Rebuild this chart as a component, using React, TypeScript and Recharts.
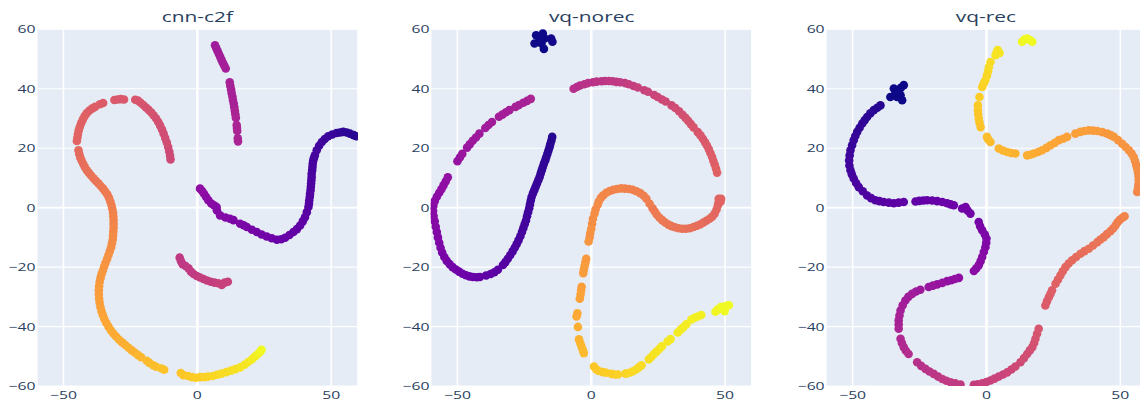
import { ScatterChart, Scatter, XAxis, YAxis, CartesianGrid } from "recharts";

// [x, y, colour value 0..1 on the plasma scale]
type Pt = [number, number, number];

const X_TICKS = [-50, 0, 50];
const Y_TICKS = [-60, -40, -20, 0, 20, 40, 60];
const DOMAIN: [number, number] = [-60, 60];

// ---------- cnn-c2f ----------
const cnnStroke: Pt[] = [
  [6.6, 54.6, 0.35], [7.1, 53.6, 0.35], [7.6, 52.6, 0.35], [8.1, 51.6, 0.35], [8.6, 50.6, 0.36],
  [9.1, 49.6, 0.36], [9.6, 48.6, 0.36], [10.1, 47.7, 0.36], [10.6, 46.8, 0.36],
  [12.1, 42.2, 0.37], [12.3, 41, 0.37], [12.6, 39.8, 0.37], [12.8, 38.6, 0.37], [13.1, 37.4, 0.37],
  [13.3, 36.2, 0.37], [13.6, 35, 0.37], [13.8, 33.8, 0.37], [14, 32.6, 0.38], [14.2, 31.4, 0.38],
  [14.4, 30.2, 0.38], [14.7, 27.8, 0.38], [14.8, 26.8, 0.38], [14.9, 25.8, 0.38],
  [15.1, 23.3, 0.38], [15.2, 22.3, 0.38],
];
const cnnArc: Pt[] = [
  [-45, 22.4, 0.6], [-44.8, 23.6, 0.6], [-44.6, 24.8, 0.6], [-44.3, 26, 0.6], [-43.9, 27.2, 0.6],
  [-43.4, 28.4, 0.59], [-42.8, 29.6, 0.59], [-42.1, 30.8, 0.59], [-41.3, 31.8, 0.59], [-40.3, 32.7, 0.58],
  [-39.2, 33.4, 0.58], [-38.2, 33.9, 0.58], [-36.4, 34.8, 0.58], [-35.2, 35.2, 0.57],
  [-31, 36.2, 0.57], [-29.8, 36.4, 0.56], [-28.6, 36.5, 0.56], [-27.4, 36.4, 0.56],
  [-23.2, 36.3, 0.55], [-22.2, 36, 0.55], [-21.2, 35.3, 0.55], [-20.2, 34.5, 0.55], [-19.2, 33.7, 0.54],
  [-18.2, 32.9, 0.54], [-17.2, 32, 0.54], [-16.3, 31, 0.54], [-15.4, 30, 0.53], [-14.6, 28.8, 0.53],
  [-13.9, 27.6, 0.53], [-13.2, 26.3, 0.53], [-12.6, 24.9, 0.52], [-12, 23.4, 0.52], [-11.4, 21.9, 0.52],
  [-10.9, 20.4, 0.52], [-10.5, 18.9, 0.51], [-10.2, 17.5, 0.51], [-10, 16.2, 0.51],
];
const cnnSpine: Pt[] = [
  [-44.4, 19.3, 0.62], [-44.1, 18, 0.62], [-43.7, 16.8, 0.62], [-43.2, 15.8, 0.63], [-42.6, 14.7, 0.63],
  [-42, 13.6, 0.63], [-41.3, 12.6, 0.64], [-40.5, 11.7, 0.64], [-39.7, 10.8, 0.64], [-38.8, 9.9, 0.65],
  [-37.9, 9, 0.65], [-37, 8.2, 0.65], [-36.1, 7.3, 0.66], [-35.2, 6.4, 0.66], [-34.4, 5.4, 0.67],
  [-33.6, 4.4, 0.67], [-33, 3.3, 0.67], [-32.5, 2.1, 0.68], [-32.1, 0.9, 0.68], [-31.8, -0.3, 0.69],
  [-31.5, -1.6, 0.69], [-31.4, -2.9, 0.7], [-31.3, -4.2, 0.7], [-31.3, -5.5, 0.7], [-31.3, -6.8, 0.71],
  [-31.4, -8.1, 0.71], [-31.5, -9.4, 0.72], [-31.6, -10.7, 0.72], [-31.9, -12, 0.72], [-32.2, -13.3, 0.73],
  [-32.7, -14.6, 0.73], [-33.2, -15.9, 0.74], [-33.7, -17.2, 0.74], [-34.3, -18.5, 0.74], [-34.8, -19.8, 0.75],
  [-35.3, -21.1, 0.75], [-35.8, -22.4, 0.76], [-36.2, -23.7, 0.76], [-36.5, -25, 0.76], [-36.7, -26.4, 0.77],
  [-36.8, -27.8, 0.77], [-36.8, -29.2, 0.77], [-36.7, -30.6, 0.78], [-36.5, -32, 0.78], [-36.2, -33.4, 0.78],
  [-35.8, -34.8, 0.79], [-35.3, -36.2, 0.79], [-34.7, -37.5, 0.8], [-34, -38.8, 0.8], [-33.2, -40, 0.8],
  [-32.3, -41.2, 0.81], [-31.3, -42.4, 0.81], [-30.3, -43.4, 0.81], [-29.2, -44.4, 0.82], [-28.1, -45.3, 0.82],
  [-26.9, -46.2, 0.82], [-25.7, -47.1, 0.83], [-24.5, -48, 0.83], [-23.3, -48.8, 0.83], [-22.1, -49.6, 0.84],
  [-21, -50.3, 0.84], [-18.9, -51.5, 0.85], [-17.9, -52.2, 0.85], [-16.5, -53, 0.86], [-15.4, -53.5, 0.86],
  [-13.4, -54.1, 0.87], [-12.4, -54.5, 0.87],
];
const cnnBase: Pt[] = [
  [-6.2, -55.6, 0.88], [-5.2, -56.3, 0.88], [-3.5, -56.6, 0.89], [-2, -57, 0.89], [-0.5, -57.2, 0.9],
  [1, -57, 0.9], [2.6, -57, 0.91], [4, -56.8, 0.91], [5.8, -56.6, 0.92], [7.4, -56.2, 0.92],
  [9, -55.8, 0.93], [10.8, -55.3, 0.93], [12.6, -54.8, 0.94], [14.2, -54.3, 0.94], [16, -53.7, 0.95],
  [17.6, -52.8, 0.95], [19, -51.9, 0.96], [20.4, -51, 0.97], [21.6, -50, 0.97], [22.6, -49.2, 0.98],
  [23.5, -48.4, 0.99], [24, -47.8, 1],
];
const cnnHook: Pt[] = [
  [-6.6, -16.8, 0.45], [-6.1, -18, 0.45], [-5.5, -19, 0.45], [-4.4, -19.6, 0.45], [-3.3, -20.4, 0.46],
  [-2.4, -21.5, 0.46], [-1.4, -22.3, 0.46], [-0.2, -23, 0.46], [1, -23.5, 0.47], [2.3, -24, 0.47],
  [3.6, -24.5, 0.47], [5, -24.9, 0.47], [6.4, -25.2, 0.47], [7.8, -25.4, 0.48], [9.1, -26, 0.48],
  [10.2, -25.2, 0.48], [11.4, -24.9, 0.48],
];
const cnnTail: Pt[] = [
  [1, 6.4, 0.3], [1.8, 5.6, 0.3], [2.5, 4.7, 0.3], [3.3, 3.6, 0.29], [4.1, 2.5, 0.29], [5.2, 1.4, 0.28],
  [6.2, 0.8, 0.28], [7.2, 0.2, 0.28], [7.3, -0.9, 0.27], [8.5, -2.6, 0.27], [10.5, -3.3, 0.26],
  [12.2, -3.7, 0.26], [13.5, -4.2, 0.25], [16, -5.4, 0.25], [17.3, -5.9, 0.24], [18.5, -6.5, 0.24],
  [20.4, -7.4, 0.23], [22.2, -8.2, 0.23], [24, -9, 0.22], [25.9, -9.7, 0.22], [27.8, -10.3, 0.21],
  [29.7, -10.8, 0.2], [31.3, -10.6, 0.2], [32.8, -10.1, 0.19], [34.4, -9.2, 0.19], [35.9, -8.2, 0.18],
  [37.2, -7.2, 0.18], [38.4, -6, 0.17], [39.4, -4.6, 0.17], [40.2, -3.2, 0.16], [40.9, -1.5, 0.16],
  [41.5, 0.2, 0.15], [41.7, 1.3, 0.15], [41.8, 2.4, 0.15], [42, 3.6, 0.14], [42.1, 4.7, 0.14],
  [42.3, 5.9, 0.14], [42.4, 7, 0.14], [42.5, 8.1, 0.13], [42.6, 9.2, 0.13], [42.7, 10.3, 0.13],
  [42.7, 11.4, 0.13], [42.9, 12.6, 0.12], [43, 13.7, 0.12], [43.1, 14.8, 0.12], [43.3, 15.9, 0.12],
  [43.6, 16.8, 0.11], [43.9, 17.6, 0.11], [44.6, 19.3, 0.11], [45.5, 20.8, 0.1], [46.5, 22.1, 0.1],
  [47.6, 23.1, 0.09], [48.9, 24, 0.09], [50.4, 24.6, 0.08], [52, 25.1, 0.08], [53.3, 25.3, 0.07],
  [54.5, 25.5, 0.07], [55.8, 25.3, 0.06], [57, 24.9, 0.06], [58.4, 24.4, 0.05], [59.4, 24, 0.05],
];

// ---------- vq-norec ----------
const norecCluster: Pt[] = [
  [-20.6, 58, 0], [-19.3, 56.3, 0], [-18.1, 58.6, 0], [-17.7, 53.4, 0], [-15, 56.9, 0.01],
  [-14.5, 55.8, 0.01], [-21.2, 55.2, 0], [-18.6, 55.2, 0], [-17.4, 56.9, 0], [-18.8, 57.3, 0],
];
const norecLoop: Pt[] = [
  [-14.6, 23.8, 0.05], [-14.9, 22.6, 0.05], [-15.3, 21.4, 0.05], [-15.6, 20.3, 0.06], [-16, 19.2, 0.06],
  [-16.4, 18.1, 0.06], [-16.8, 17, 0.06], [-17.2, 15.9, 0.07], [-17.7, 14.8, 0.07], [-18.1, 13.7, 0.07],
  [-18.5, 12.6, 0.07], [-18.9, 11.5, 0.07], [-19.3, 10.3, 0.08], [-19.8, 9.2, 0.08], [-20.3, 8.1, 0.08],
  [-20.8, 7, 0.08], [-21.3, 5.9, 0.08], [-21.8, 4.8, 0.09], [-22.3, 3.6, 0.09], [-22.6, 2.4, 0.09],
  [-22.9, 1.1, 0.09], [-23.2, -0.2, 0.1], [-23.6, -1.5, 0.1], [-24, -2.9, 0.1], [-24.4, -4.3, 0.1],
  [-24.9, -5.6, 0.11], [-25.4, -6.9, 0.11], [-25.9, -8.2, 0.11], [-26.5, -9.6, 0.12], [-27.2, -11, 0.12],
  [-27.9, -12.3, 0.12], [-28.6, -13.5, 0.13], [-29.4, -14.7, 0.13], [-30.3, -16, 0.13], [-31.2, -17.2, 0.14],
  [-32.1, -18.3, 0.14], [-33, -19.3, 0.15], [-34.9, -20.9, 0.16], [-36.2, -21.7, 0.16], [-37.6, -22.3, 0.17],
  [-39.3, -22.8, 0.17], [-41.6, -23.3, 0.18], [-42.8, -23.4, 0.19], [-44.2, -23.3, 0.19], [-45.5, -23.1, 0.2],
  [-46.8, -22.7, 0.2], [-48.1, -22.2, 0.21], [-49.4, -21.5, 0.21], [-50.6, -20.8, 0.22], [-51.8, -20, 0.22],
  [-52.9, -19, 0.23], [-54, -17.9, 0.23], [-54.9, -16.6, 0.24], [-55.7, -15.1, 0.24], [-56.3, -13.5, 0.25],
  [-56.8, -11.8, 0.25], [-57.3, -10, 0.26], [-57.7, -8.2, 0.26], [-58.1, -6.4, 0.27], [-58.5, -4.6, 0.27],
  [-58.9, -2.8, 0.28], [-59.1, -1.1, 0.28], [-59, 0.6, 0.28], [-58.5, 2.2, 0.29], [-57.7, 3.7, 0.29],
  [-56.8, 5, 0.29], [-56, 6.2, 0.3], [-55.2, 7.5, 0.3], [-54.4, 8.8, 0.3], [-53.6, 10.2, 0.31],
  [-50, 15.6, 0.32], [-49.1, 16.9, 0.32], [-48.2, 18.1, 0.33],
  [-46.4, 20.2, 0.33], [-45.4, 21.3, 0.33], [-44.3, 22.5, 0.34], [-43.1, 23.6, 0.34], [-41.8, 24.9, 0.34],
  [-39.6, 26.8, 0.35], [-38.4, 27.8, 0.35], [-37.1, 28.8, 0.35],
  [-34.5, 30.6, 0.36], [-33.2, 31.3, 0.36], [-31.9, 32.1, 0.36], [-30.6, 32.8, 0.36],
  [-28.3, 33.9, 0.37], [-27, 34.5, 0.37], [-25.4, 35.3, 0.37], [-24, 35.9, 0.37], [-22.6, 36.6, 0.38],
];
const norecArc: Pt[] = [
  [-6.6, 40, 0.42], [-5.4, 40.6, 0.42], [-4.2, 41.1, 0.42], [-2.6, 41.5, 0.43], [-1.2, 41.9, 0.43],
  [0.6, 42.2, 0.43], [2, 42.4, 0.44], [3.8, 42.5, 0.44], [5.2, 42.6, 0.44], [6.6, 42.6, 0.45],
  [8, 42.5, 0.45], [9.4, 42.3, 0.45], [10.8, 42.2, 0.46], [12.6, 41.9, 0.46], [14, 41.5, 0.47],
  [15.8, 40.9, 0.47], [17.4, 40.4, 0.48], [19.8, 39.5, 0.48], [21.2, 39, 0.49],
  [23.5, 37.9, 0.49], [24.8, 37.2, 0.5], [26.4, 36.4, 0.5], [27.8, 35.7, 0.51],
  [30, 34.4, 0.51], [31.4, 33.5, 0.52], [32.8, 32.4, 0.52], [34.1, 31.2, 0.53], [35.2, 30.2, 0.53],
  [36.2, 29.2, 0.54], [37.2, 28.1, 0.54], [38.2, 27, 0.55], [39.8, 25.4, 0.55], [40.8, 24.3, 0.56],
  [41.7, 23.2, 0.56], [42.5, 22, 0.56], [43.2, 20.9, 0.57], [43.9, 19.7, 0.57], [44.5, 18.4, 0.57],
  [45.1, 17.1, 0.58], [45.6, 15.8, 0.58], [46.1, 14.5, 0.58], [46.6, 13.2, 0.59], [47, 11.8, 0.59],
];
const norecWave: Pt[] = [
  [48.5, 3, 0.6], [47.6, 3, 0.6], [48.3, 2, 0.6], [47.6, 1.8, 0.6], [47.3, 0.8, 0.6], [46.8, -0.6, 0.61],
  [46.1, -2, 0.61], [45.2, -3, 0.61], [44.2, -3.7, 0.62], [43, -4.4, 0.62], [41.9, -5, 0.62],
  [40.8, -5.6, 0.63], [39.5, -6.1, 0.63], [38.2, -6.5, 0.63], [36.8, -6.9, 0.64], [35.4, -7.1, 0.64],
  [34, -7.1, 0.64], [32.6, -6.9, 0.65], [31.3, -6.6, 0.65], [30, -6.2, 0.65], [28.8, -5.7, 0.66],
  [27.6, -5, 0.66], [26.5, -4.2, 0.66], [25.5, -3.4, 0.67], [24.5, -2.4, 0.67], [23.7, -1.3, 0.67],
  [22.9, -0.2, 0.67], [21.8, 1.3, 0.68], [20.6, 3, 0.68], [19.6, 4, 0.68], [18.3, 4.9, 0.68],
  [16.9, 5.5, 0.69], [15.5, 6, 0.69], [14.1, 6.3, 0.69], [12.6, 6.4, 0.69], [11.1, 6.5, 0.7],
  [9.6, 6.3, 0.7], [8.2, 6, 0.7], [6.9, 5.6, 0.7], [5.6, 5, 0.71], [4.5, 4.2, 0.71], [3.6, 3.3, 0.71],
  [2.8, 2.1, 0.72],
];
const norecDrop: Pt[] = [
  [2.4, 1, 0.72], [1.6, -0.6, 0.72], [1.2, -2, 0.73], [0.6, -3.7, 0.73], [0.3, -5.4, 0.73],
  [0, -7.1, 0.74], [-0.4, -8.6, 0.74], [-0.6, -9.9, 0.74], [-1, -11.4, 0.75],
  [-1.9, -17.2, 0.76], [-2.2, -18.4, 0.76], [-2.5, -19.6, 0.77], [-2.8, -20.8, 0.77], [-3, -22, 0.77],
  [-3.6, -26.6, 0.78], [-3.8, -27.8, 0.78], [-4, -29.2, 0.79], [-4.3, -30.6, 0.79],
  [-5.2, -35.5, 0.81], [-5.5, -36.6, 0.81], [-5, -40.1, 0.82],
  [-4.6, -44.3, 0.83], [-4.1, -45.6, 0.84], [-3.6, -46.8, 0.84], [-3.1, -48, 0.85], [-2.8, -48.9, 0.85],
];
const norecTail: Pt[] = [
  [1, -53.4, 0.88], [1.8, -54.3, 0.88], [2.8, -54.9, 0.89], [4.4, -55.3, 0.89], [5.6, -55.5, 0.9],
  [7.6, -55.9, 0.9], [8.8, -56.1, 0.9], [10, -56.1, 0.91],
  [12.8, -55.8, 0.91], [14, -55.6, 0.92], [15.4, -55.1, 0.92], [16.6, -54.5, 0.93], [17.8, -53.7, 0.93],
  [18.8, -53, 0.93], [21.5, -51, 0.94], [22.4, -50.2, 0.94], [23.4, -49.2, 0.95], [24.4, -48.4, 0.95],
  [25.4, -47.5, 0.95], [26.4, -46.6, 0.96], [28.5, -45, 0.96], [29.6, -44.2, 0.96],
  [32.3, -42, 0.97], [33.4, -41, 0.97], [34.4, -40.2, 0.97], [35.5, -39.2, 0.97],
  [37.4, -37.6, 0.98], [38.6, -37, 0.98], [39.8, -36.6, 0.98], [41.1, -36.1, 0.98],
  [46.4, -35, 0.99], [47.3, -34.2, 0.99], [48.4, -33.4, 1], [49.4, -33.3, 1], [50.6, -33, 1],
  [51.4, -32.8, 1], [49.8, -34.8, 1],
];

// ---------- vq-rec ----------
const recCluster: Pt[] = [
  [-34.6, 40.1, 0], [-30.9, 41.2, 0], [-32.8, 39.5, 0], [-32.1, 37.8, 0], [-31.5, 36.1, 0],
  [-33.4, 37.2, 0], [-35.9, 37.2, 0], [-34, 38.9, 0], [-32, 40.3, 0],
];
const recLong: Pt[] = [
  [-39.6, 34.4, 0.05], [-40.8, 33.6, 0.05], [-42.1, 32.8, 0.05], [-43.4, 31.7, 0.06], [-44.6, 30.5, 0.06],
  [-45.5, 29.4, 0.06], [-46.4, 28.3, 0.07], [-47.4, 26.9, 0.07], [-48.3, 25.5, 0.07], [-49, 24.1, 0.08],
  [-49.6, 22.7, 0.08], [-50.2, 21, 0.08], [-50.8, 19.3, 0.09], [-51.1, 17.6, 0.09], [-51.3, 15.9, 0.1],
  [-51.2, 14.2, 0.1], [-50.8, 12.6, 0.1], [-50.3, 11.2, 0.11], [-49.6, 9.8, 0.11], [-48.7, 8.3, 0.12],
  [-47.7, 6.9, 0.12], [-46.2, 5.5, 0.13], [-44.6, 4.1, 0.13], [-43.1, 3.2, 0.14], [-41.5, 2.5, 0.14],
  [-40, 2.2, 0.15], [-38.4, 1.9, 0.15], [-36.5, 1.7, 0.16], [-34.6, 1.5, 0.16], [-32.8, 1.7, 0.17],
  [-30.9, 1.9, 0.17], [-26.5, 2.1, 0.18], [-25.1, 2.3, 0.18], [-23.6, 2.4, 0.18], [-22.2, 2.5, 0.19],
  [-20.3, 2.4, 0.19], [-18.4, 2.2, 0.19], [-16.5, 1.9, 0.2], [-14.7, 1.5, 0.2], [-13.4, 1.1, 0.2],
  [-12.2, 0.8, 0.21], [-9.1, -0.3, 0.21], [-7.8, 0.2, 0.22], [-7, -1, 0.22], [-6, -2, 0.22],
  [-2.9, -4.8, 0.23], [-2.4, -6.2, 0.24], [-1.6, -7.6, 0.24], [-0.6, -9, 0.25], [0, -10.4, 0.25],
  [-0.1, -11.8, 0.26], [-0.4, -13.3, 0.26], [-1, -14.9, 0.27], [-1.6, -16.6, 0.27], [-2.2, -18, 0.28],
  [-2.9, -19.4, 0.28], [-3.8, -20.4, 0.29], [-4.7, -21.3, 0.29],
  [-10.3, -23.6, 0.3], [-11.8, -24, 0.31], [-13.2, -24.4, 0.31], [-14.7, -24.7, 0.31], [-16.5, -25.3, 0.32],
  [-18.4, -25.8, 0.32], [-20, -26.2, 0.33], [-21.6, -26.7, 0.33],
  [-24.7, -27.6, 0.34], [-26.3, -28.2, 0.34], [-27.8, -29, 0.35], [-29.2, -30, 0.35], [-30.3, -31.2, 0.35],
  [-31.3, -32.8, 0.36], [-32.1, -34.6, 0.36], [-32.5, -36.3, 0.37], [-32.8, -37.9, 0.37], [-32.8, -39.3, 0.37],
  [-32.8, -40.7, 0.38], [-32.1, -44.1, 0.39], [-31.6, -45.5, 0.39], [-30.9, -46.9, 0.4], [-30.1, -48.1, 0.4],
  [-29.1, -49.2, 0.41], [-25.9, -52, 0.42], [-24.4, -53.2, 0.42], [-22.8, -54.2, 0.43], [-21.3, -55.1, 0.43],
  [-19.7, -55.9, 0.44], [-18.1, -56.8, 0.44], [-16.5, -57.6, 0.45], [-15, -58.2, 0.45], [-13.4, -58.7, 0.46],
  [-11.6, -59.1, 0.46], [-9.7, -59.5, 0.46], [-4.7, -59.6, 0.47], [-3.2, -59.4, 0.47], [-1.6, -59.1, 0.48],
  [0, -58.6, 0.48], [1.5, -58.1, 0.48], [3, -57.5, 0.49], [4.6, -56.8, 0.49], [6.2, -56.1, 0.49],
  [7.7, -55.4, 0.5], [9.3, -54.4, 0.5], [10.8, -53.4, 0.51], [12.7, -52, 0.51], [14, -50.6, 0.52],
  [15.2, -49.2, 0.52], [16.2, -48, 0.52], [17.1, -46.9, 0.53], [17.8, -45.5, 0.53], [18.3, -44.1, 0.54],
  [18.9, -42.4, 0.54], [19.5, -40.7, 0.55],
  [22, -32.9, 0.57], [22.6, -31.5, 0.57], [23.3, -30.1, 0.57], [23.9, -29, 0.58], [24.5, -27.8, 0.58],
  [25.8, -25.6, 0.59], [26.7, -24.2, 0.59], [27.6, -22.8, 0.6], [28.5, -21.4, 0.6], [29.5, -20, 0.61],
  [30.7, -18.8, 0.61], [32, -17.7, 0.62], [33.5, -16.6, 0.62], [35.1, -15.5, 0.63], [36.6, -14.6, 0.63],
  [38.2, -13.8, 0.64], [39.8, -12.7, 0.64], [41.4, -11.6, 0.65], [42.6, -10.7, 0.65], [43.8, -9.9, 0.66],
  [45, -8.9, 0.66], [46.3, -7.9, 0.67], [47.3, -7, 0.67], [48.2, -6, 0.68], [48.9, -5, 0.68],
  [49.8, -4.1, 0.69], [50.8, -3.4, 0.69], [51.6, -2.9, 0.7],
];
const recUpper: Pt[] = [
  [56.3, 5.3, 0.71], [56.6, 6.6, 0.71], [56.8, 7.9, 0.71], [56.9, 9.2, 0.72], [56.8, 10.5, 0.72],
  [56.6, 11.8, 0.72], [56.3, 13.1, 0.73], [55.9, 14.4, 0.73], [55.5, 15.7, 0.73], [55, 17, 0.74],
  [54.2, 18.2, 0.74], [53.2, 19.3, 0.74], [52, 20.4, 0.75], [50.7, 21.5, 0.75], [49.2, 22.7, 0.75],
  [47.6, 23.8, 0.76], [46.4, 24.4, 0.76], [45.1, 24.9, 0.76], [43.3, 25.4, 0.76], [41.4, 25.8, 0.77],
  [39.8, 25.9, 0.77], [38.2, 26, 0.77], [36.6, 25.8, 0.78], [35.1, 25.5, 0.78], [33.2, 24.9, 0.78],
  [30.1, 23.8, 0.79], [28.6, 23.2, 0.79], [27, 22.7, 0.79], [25.5, 21.8, 0.8], [23.9, 21, 0.8],
  [22.4, 20.1, 0.8], [20.8, 19.3, 0.81], [19.3, 18.7, 0.81], [17.7, 18.2, 0.81], [16.4, 17.8, 0.82],
  [15.2, 17.6, 0.82], [10.8, 18.2, 0.83], [9.2, 18.4, 0.83], [7.7, 18.7, 0.84], [6.1, 19.2, 0.84],
  [4.6, 19.9, 0.84], [1.5, 22.1, 0.85], [0.6, 23, 0.86], [0.2, 23.8, 0.86],
  [-2.2, 27.1, 0.87], [-2.6, 28.6, 0.87], [-2.9, 30, 0.88], [-3.1, 31.4, 0.88], [-3.2, 32.8, 0.88],
  [-3.2, 34.4, 0.89], [-2.6, 37.2, 0.9], [-1.6, 40.6, 0.91], [-1, 41.8, 0.91], [-0.4, 42.9, 0.92],
  [0.2, 44.5, 0.92], [0.6, 45.9, 0.92], [0.9, 47.3, 0.93], [1.5, 49, 0.93],
  [3.4, 51.3, 0.95], [3.8, 52.2, 0.95], [4.2, 53, 0.95], [4.9, 52, 0.95],
  [13.3, 55.8, 0.99], [14.3, 56.6, 1], [15.2, 56.9, 1], [16.2, 56.4, 1], [17.1, 55.8, 1],
];

const PANELS = [
  { title: "cnn-c2f", segments: [cnnStroke, cnnArc, cnnSpine, cnnBase, cnnHook, cnnTail] },
  { title: "vq-norec", segments: [norecCluster, norecLoop, norecArc, norecWave, norecDrop, norecTail] },
  { title: "vq-rec", segments: [recCluster, recLong, recUpper] },
];

// plasma colour scale, 11 stops
const PLASMA = [
  "#0d0887", "#41049d", "#6a00a8", "#8f0da4", "#b12a90", "#cc4778",
  "#e16462", "#f2844b", "#fca636", "#fcce25", "#f0f921",
];
const PLASMA_RGB = PLASMA.map((h) => [1, 3, 5].map((i) => parseInt(h.slice(i, i + 2), 16)));

function plasma(t: number): string {
  const s = Math.max(0, Math.min(1, t)) * 10;
  const i = Math.min(9, Math.floor(s));
  const f = s - i;
  const a = PLASMA_RGB[i];
  const b = PLASMA_RGB[i + 1];
  const c = a.map((v, k) => Math.round(v + (b[k] - v) * f));
  return `rgb(${c[0]},${c[1]},${c[2]})`;
}

// figure is laid out at 900x450 and stretched to the page size
const FIG_W = 900;
const FIG_H = 450;
const SX = 1140 / FIG_W;
const SY = 405 / FIG_H;

const PLOT_TOP = 32.5;
const PLOT_H = 396.5;
const PLOT_W = 253.6;
const PLOT_LEFTS = [29, 340.3, 651.6];
const AXIS_W = 28;

const INK = "#2a3f5f";
const FONT = "'Open Sans', verdana, arial, sans-serif";
// markers stay round after the stretch
const DOT_R = 4.3;
const DOT_RX = DOT_R / SX;
const DOT_RY = DOT_R / SY;

const fmt = (v: number) => (v < 0 ? `\u2212${-v}` : `${v}`);

function Dot(props: any) {
  const { cx, cy, payload } = props;
  if (cx == null || cy == null) return <g />;
  return <ellipse cx={cx} cy={cy} rx={DOT_RX} ry={DOT_RY} fill={payload.color} />;
}

function Panel({ segments, left }: { segments: Pt[][]; left: number }) {
  const data = segments.flat().map(([x, y, c]) => ({ x, y, color: plasma(c) }));
  return (
    <div style={{ position: "absolute", left: left - AXIS_W, top: 0 }}>
      <ScatterChart
        width={AXIS_W + PLOT_W}
        height={FIG_H}
        margin={{ top: PLOT_TOP, right: 0, bottom: 0, left: 0 }}
      >
        <CartesianGrid stroke="#ffffff" strokeWidth={1.2} fill="#E5ECF6" fillOpacity={1} />
        <CartesianGrid
          stroke="#ffffff"
          strokeWidth={2}
          horizontalValues={[0]}
          verticalValues={[0]}
        />
        <XAxis
          type="number"
          dataKey="x"
          domain={DOMAIN}
          ticks={X_TICKS}
          interval={0}
          allowDataOverflow
          axisLine={false}
          tickLine={false}
          tickSize={3}
          tickMargin={2}
          height={FIG_H - PLOT_TOP - PLOT_H}
          tick={{ fill: INK, fontSize: 12.4, fontFamily: FONT }}
          tickFormatter={fmt}
        />
        <YAxis
          type="number"
          dataKey="y"
          domain={DOMAIN}
          ticks={Y_TICKS}
          interval={0}
          allowDataOverflow
          axisLine={false}
          tickLine={false}
          tickSize={0}
          tickMargin={1}
          width={AXIS_W}
          tick={{ fill: INK, fontSize: 12.4, fontFamily: FONT }}
          tickFormatter={fmt}
        />
        <Scatter data={data} shape={Dot} isAnimationActive={false} />
      </ScatterChart>
    </div>
  );
}

export default function App() {
  return (
    <div
      style={{
        position: "absolute",
        left: 0,
        top: 0,
        width: 1140,
        height: 405,
        overflow: "hidden",
        background: "#ffffff",
      }}
    >
      <div
        style={{
          position: "absolute",
          left: 0,
          top: 0,
          width: FIG_W,
          height: FIG_H,
          transform: `scale(${SX}, ${SY})`,
          transformOrigin: "0 0",
        }}
      >
        <svg
          width={FIG_W + 10}
          height={40}
          style={{ position: "absolute", left: 0, top: 0 }}
        >
          {PANELS.map((p, i) => (
            <text
              key={p.title}
              x={PLOT_LEFTS[i] + PLOT_W / 2}
              y={24.5}
              textAnchor="middle"
              fill={INK}
              fontSize={16.5}
              fontFamily={FONT}
            >
              {p.title}
            </text>
          ))}
        </svg>
        {PANELS.map((p, i) => (
          <Panel key={p.title} segments={p.segments} left={PLOT_LEFTS[i]} />
        ))}
      </div>
    </div>
  );
}
